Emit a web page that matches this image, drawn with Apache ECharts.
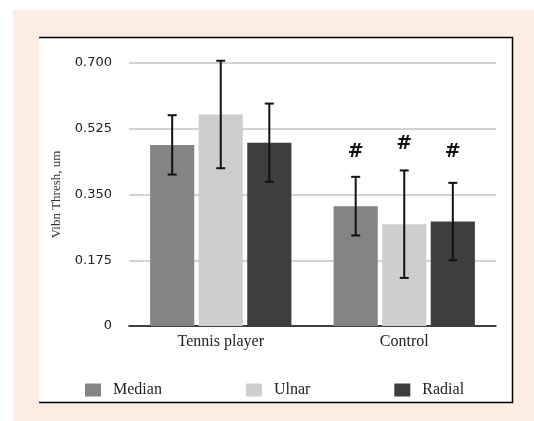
<!DOCTYPE html>
<html>
<head>
<meta charset="utf-8">
<script src="https://cdn.jsdelivr.net/npm/echarts@6/dist/echarts.min.js"></script>
<style>html,body{margin:0;padding:0;background:#fdede3;}#c{width:534px;height:421px;}</style>
</head>
<body>
<div id="c"></div>
<script>
const categories = ['Tennis player', 'Control'];
const seriesNames = ['Median', 'Ulnar', 'Radial'];
const medianMean = [0.482, 0.319];
const ulnarMean = [0.563, 0.271];
const radialMean = [0.488, 0.278];
const medianErr = [0.079, 0.078];
const ulnarErr = [0.143, 0.143];
const radialErr = [0.104, 0.103];
const medianHash = [null, 0.464];
const ulnarHash = [null, 0.484];
const radialHash = [null, 0.464];
const yTicks = [0, 0.175, 0.35, 0.525, 0.7];

const colors = ['#848484', '#cecece', '#3d3e3d'];
const means = [medianMean, ulnarMean, radialMean];
const errs = [medianErr, ulnarErr, radialErr];
const hashes = [medianHash, ulnarHash, radialHash];
const CAT_GAP = 0.23, BAR_GAP = 0.1;

function offsetFor(idx, band) {
  const total = band * (1 - CAT_GAP);
  const bw = total / (3 + 2 * BAR_GAP);
  return -total / 2 + idx * bw * (1 + BAR_GAP) + bw / 2;
}

const chart = echarts.init(document.getElementById('c'));
const series = [];
seriesNames.forEach((name, i) => {
  series.push({
    name: name, type: 'bar', data: means[i],
    barCategoryGap: (CAT_GAP * 100) + '%', barGap: (BAR_GAP * 100) + '%',
    itemStyle: { color: colors[i] }
  });
});
seriesNames.forEach((name, i) => {
  series.push({
    type: 'custom', name: name + ' err', silent: true, z: 5,
    data: categories.map((c, k) => [k, means[i][k], errs[i][k], hashes[i][k] == null ? NaN : hashes[i][k]]),
    renderItem: function (params, api) {
      const k = api.value(0);
      const m = api.value(1), e = api.value(2), h = api.value(3);
      const band = api.size([1, 0])[0];
      const off = offsetFor(i, band);
      const top = api.coord([k, m + e]);
      const bot = api.coord([k, m - e]);
      const x = top[0] + off;
      const cw = 4.5;
      const st = { stroke: '#111', lineWidth: 2 };
      const children = [
        { type: 'line', shape: { x1: x, y1: top[1], x2: x, y2: bot[1] }, style: st },
        { type: 'line', shape: { x1: x - cw, y1: top[1], x2: x + cw, y2: top[1] }, style: st },
        { type: 'line', shape: { x1: x - cw, y1: bot[1], x2: x + cw, y2: bot[1] }, style: st }
      ];
      if (!isNaN(h)) {
        const hp = api.coord([k, h]);
        children.push({ type: 'text', x: x, y: hp[1], style: {
          text: '#', fill: '#111', font: 'bold 19px "DejaVu Sans"', align: 'center', verticalAlign: 'middle' } });
      }
      return { type: 'group', children: children };
    }
  });
});

chart.setOption({
  backgroundColor: '#ffffff',
  animation: false,
  graphic: [
    { type: 'rect', shape: { x: 13, y: 10, width: 521, height: 411 }, style: { fill: '#fdede3' }, z: -11 },
    { type: 'rect', shape: { x: 39, y: 37, width: 474, height: 366 }, style: { fill: '#ffffff' }, z: -10 },
    { type: 'polyline', shape: { points: [[39, 37.5], [512.5, 37.5], [512.5, 402.5], [39, 402.5]] }, style: { stroke: '#000', lineWidth: 1.5, fill: null }, z: -9 }
  ],
  grid: { left: 129, right: 38, top: 63, bottom: 95 },
  legend: {
    data: seriesNames, left: 80, top: 377, itemWidth: 16, itemHeight: 13, itemGap: 84,
    icon: 'rect',
    textStyle: { fontFamily: 'Liberation Serif', fontSize: 16, color: '#222', padding: [0, 0, 0, 7] }
  },
  xAxis: {
    type: 'category', data: categories,
    axisLine: { lineStyle: { color: '#111', width: 1.5 } },
    axisTick: { show: false },
    axisLabel: { fontFamily: 'Liberation Serif', fontSize: 16, color: '#222', margin: 8 }
  },
  yAxis: {
    type: 'value', min: 0, max: 0.7, interval: 0.175,
    name: 'Vibn Thresh, um', nameLocation: 'middle', nameGap: 66,
    nameTextStyle: { fontFamily: 'Liberation Serif', fontSize: 13, color: '#333' },
    axisLine: { show: false }, axisTick: { show: false },
    splitLine: { lineStyle: { color: '#c4c4c4', width: 1.5 } },
    axisLabel: { fontFamily: 'DejaVu Sans', fontSize: 13, color: '#222', margin: 17,
      formatter: v => { const t = yTicks.find(x => Math.abs(x - v) < 1e-9); return t === 0 ? '0' : (t != null ? t.toFixed(3) : ''); } }
  },
  series: series
});
</script>
</body>
</html>
